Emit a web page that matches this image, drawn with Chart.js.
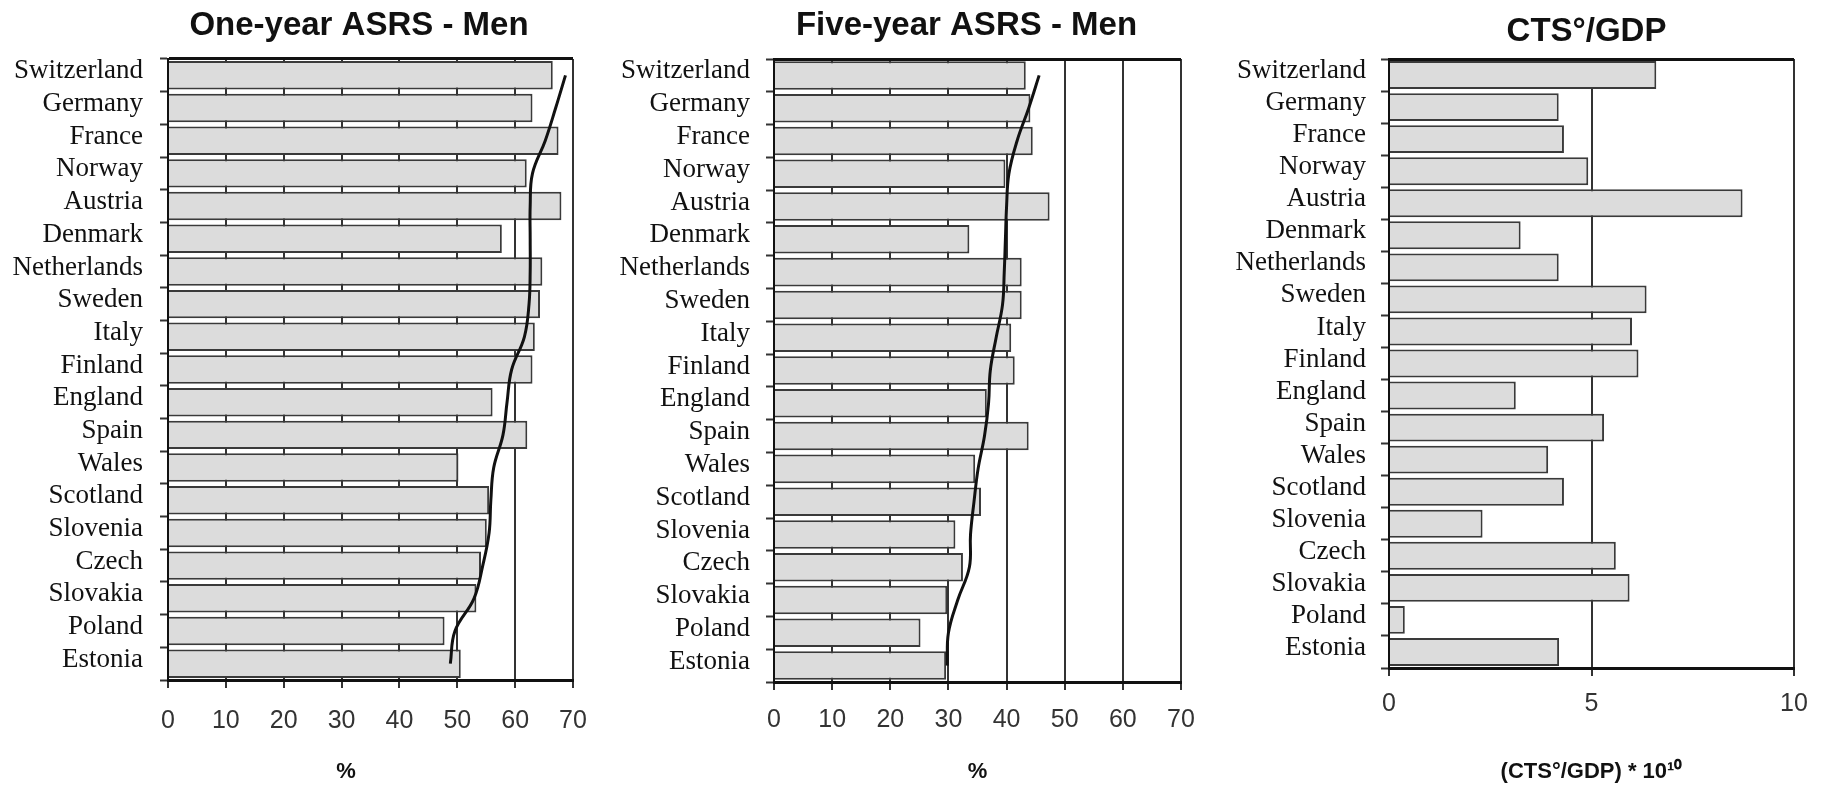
<!DOCTYPE html>
<html>
<head>
<meta charset="utf-8">
<script src="https://cdn.jsdelivr.net/npm/chart.js@4.4.1/dist/chart.umd.min.js"></script>
<style>
  html, body { margin: 0; padding: 0; background: #ffffff; overflow: hidden; width: 1823px; height: 786px; }
  canvas.c { position: absolute; top: 0; }
</style>
</head>
<body>
<canvas id="c1" class="c" width="718" height="786" style="left:0px;width:718px;height:786px"></canvas>
<canvas id="c2" class="c" width="733" height="786" style="left:600px;width:733px;height:786px"></canvas>
<canvas id="c3" class="c" width="743" height="786" style="left:1215px;width:743px;height:786px"></canvas>
<script>
// ---------- data ----------
const countries = ["Switzerland", "Germany", "France", "Norway", "Austria", "Denmark", "Netherlands", "Sweden", "Italy", "Finland", "England", "Spain", "Wales", "Scotland", "Slovenia", "Czech", "Slovakia", "Poland", "Estonia"];

const oneYearASRS  = [66.5, 63.0, 67.5, 62.0, 68.0, 57.7, 64.7, 64.3, 63.4, 63.0, 56.1, 62.1, 50.2, 55.5, 55.1, 54.1, 53.3, 47.8, 50.6];
const oneYearTrend = [68.7, 67.0, 65.2, 63.0, 62.6, 62.6, 62.6, 62.4, 61.6, 59.4, 58.6, 57.9, 56.3, 55.8, 55.5, 54.4, 52.9, 49.6, 48.8];

const fiveYearASRS  = [43.3, 44.1, 44.5, 39.8, 47.4, 33.6, 42.6, 42.6, 40.8, 41.4, 36.6, 43.8, 34.6, 35.6, 31.2, 32.5, 29.8, 25.2, 29.6];
const fiveYearTrend = [45.6, 43.8, 41.8, 40.4, 40.0, 39.8, 39.6, 39.3, 38.2, 37.2, 36.9, 36.2, 35.1, 34.4, 33.8, 33.6, 31.6, 30.0, 29.8];

const ctsGdp = [6.60, 4.19, 4.32, 4.92, 8.73, 3.25, 4.19, 6.36, 6.00, 6.16, 3.13, 5.31, 3.93, 4.32, 2.31, 5.60, 5.94, 0.39, 4.20];

const titles = ["One-year ASRS - Men", "Five-year ASRS - Men", "CTS°/GDP"];
const xTitles = ["%        ", "%", "(CTS°/GDP) * 10¹⁰"];
const pctRange = [0, 70, 10];
const ctsRange = [0, 10, 5];

// ---------- styling ----------
const SANS = "'Liberation Sans', Arial, sans-serif";
const SERIF = "'Liberation Serif', 'Times New Roman', serif";
const BAR_FILL = "#dcdcdc";
const BAR_EDGE = "#3a3a3a";
const INK = "#111111";

function makeChart(id, cfg) {
  const datasets = [];
  if (cfg.trend) {
    datasets.push({
      type: 'line',
      indexAxis: 'y',
      data: cfg.trend,
      borderColor: INK,
      borderWidth: 3,
      pointRadius: 0,
      tension: 0.4,
      fill: false,
      order: 0
    });
  }
  datasets.push({
    type: 'bar',
    data: cfg.bars,
    backgroundColor: BAR_FILL,
    borderColor: BAR_EDGE,
    borderWidth: 2,
    barPercentage: 0.87,
    categoryPercentage: 1.0,
    order: 1
  });

  return new Chart(document.getElementById(id), {
    type: 'bar',
    data: { labels: countries, datasets: datasets },
    options: {
      indexAxis: 'y',
      responsive: false,
      animation: false,
      devicePixelRatio: 1,
      layout: { padding: 0 },
      plugins: {
        legend: { display: false },
        tooltip: { enabled: false },
        title: {
          display: true,
          text: cfg.title,
          color: INK,
          font: { family: SANS, size: 33, weight: 'bold', lineHeight: 1.2 },
          padding: { top: cfg.titleTop, bottom: cfg.titleBottom }
        }
      },
      scales: {
        x: {
          type: 'linear',
          position: 'bottom',
          min: cfg.range[0],
          max: cfg.range[1],
          ticks: {
            stepSize: cfg.range[2],
            color: '#333333',
            font: { family: SANS, size: 25, lineHeight: 1.2 },
            padding: cfg.xTickPad,
            maxRotation: 0
          },
          grid: { color: '#333333', lineWidth: 2, tickLength: 8, tickColor: '#333333', tickWidth: 2 },
          border: { display: true, color: INK, width: 3 },
          title: {
            display: true,
            text: cfg.xTitle,
            color: INK,
            font: { family: SANS, size: 22, weight: 'bold', lineHeight: 1.2 },
            padding: { top: 0, bottom: 1 }
          },
          afterFit: s => { s.height = cfg.xHeight; }
        },
        y: {
          type: 'category',
          position: 'left',
          grid: {
            offset: true,
            color: c => (c.index === 0 ? INK : 'rgba(0,0,0,0)'),
            lineWidth: c => (c.index === 0 ? 3 : 1),
            tickLength: 8,
            tickColor: '#333333',
            tickWidth: 2
          },
          border: { display: true, color: INK, width: 2 },
          ticks: {
            color: INK,
            font: { family: SERIF, size: 27, lineHeight: 1.2 },
            padding: cfg.yTickPad,
            labelOffset: -4,
            autoSkip: false
          },
          afterFit: s => { s.width = cfg.yWidth; }
        },
        y2: {
          type: 'linear',
          axis: 'y',
          position: 'right',
          display: true,
          grid: { display: false, drawTicks: false },
          border: { display: false },
          ticks: { display: false },
          afterFit: s => { s.width = cfg.rightWidth; }
        }
      }
    }
  });
}

makeChart('c1', {
  title: titles[0], titleTop: 6, titleBottom: 13.4,
  bars: oneYearASRS, trend: oneYearTrend, range: pctRange,
  xTitle: xTitles[0], xTickPad: 18, xHeight: 106,
  yWidth: 168, yTickPad: 17, rightWidth: 145
});

makeChart('c2', {
  title: titles[1], titleTop: 6, titleBottom: 13.4,
  bars: fiveYearASRS, trend: fiveYearTrend, range: pctRange,
  xTitle: xTitles[1], xTickPad: 15, xHeight: 104,
  yWidth: 174, yTickPad: 16, rightWidth: 152
});

makeChart('c3', {
  title: titles[2], titleTop: 12.2, titleBottom: 7.2,
  bars: ctsGdp, trend: null, range: ctsRange,
  xTitle: xTitles[2], xTickPad: 13, xHeight: 118,
  yWidth: 174, yTickPad: 15, rightWidth: 164
});
</script>
</body>
</html>
